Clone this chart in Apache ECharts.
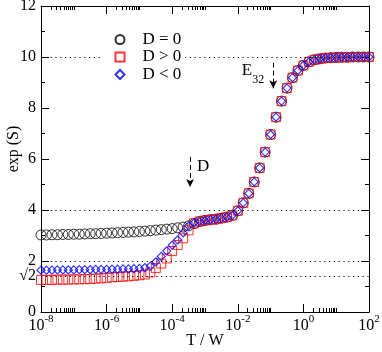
<!DOCTYPE html>
<html><head><meta charset="utf-8">
<script src="https://cdn.jsdelivr.net/npm/echarts@6/dist/echarts.min.js"></script>
<style>html,body{margin:0;padding:0;background:#fff}#c{width:382px;height:352px}</style>
</head><body><div id="c"></div>
<script>
// temperatures T/W (x values, log spaced, 6 per decade)
const T = [
  1e-8, 1.468e-8, 2.154e-8, 3.162e-8, 4.642e-8, 6.813e-8,
  1e-7, 1.468e-7, 2.154e-7, 3.162e-7, 4.642e-7, 6.813e-7,
  1e-6, 1.468e-6, 2.154e-6, 3.162e-6, 4.642e-6, 6.813e-6,
  1e-5, 1.468e-5, 2.154e-5, 3.162e-5, 4.642e-5, 6.813e-5,
  1e-4, 1.468e-4, 2.154e-4, 3.162e-4, 4.642e-4, 6.813e-4,
  1e-3, 1.468e-3, 2.154e-3, 3.162e-3, 4.642e-3, 6.813e-3,
  1e-2, 1.468e-2, 2.154e-2, 3.162e-2, 4.642e-2, 6.813e-2,
  1e-1, 1.468e-1, 2.154e-1, 3.162e-1, 4.642e-1, 6.813e-1,
  1, 1.468, 2.154, 3.162, 4.642, 6.813,
  10, 14.68, 21.54, 31.62, 46.42, 68.13,
  100
];
// low-temperature part (first 29 points) of each series
const lowD0 = [3.02,3.02,3.03,3.03,3.04,3.04,3.05,3.05,3.06,3.07,3.07,3.08,3.09,3.10,3.11,3.12,3.13,3.14,3.16,3.17,3.19,3.21,3.23,3.25,3.27,3.30,3.33,3.38,3.47];
const lowDpos = [1.26,1.26,1.26,1.27,1.27,1.27,1.28,1.28,1.29,1.29,1.31,1.32,1.34,1.36,1.37,1.39,1.40,1.42,1.44,1.47,1.55,1.72,1.90,2.10,2.39,2.63,2.89,3.20,3.48];
const lowDneg = [1.64,1.64,1.64,1.65,1.65,1.65,1.65,1.66,1.66,1.66,1.67,1.67,1.67,1.68,1.68,1.69,1.69,1.70,1.71,1.74,1.80,1.97,2.18,2.40,2.62,2.83,3.10,3.38,3.50];
// high-temperature part (remaining 32 points), common to all three series
const highCommon = [3.55,3.59,3.62,3.64,3.68,3.72,3.79,3.97,4.28,4.65,5.10,5.65,6.27,6.96,7.64,8.27,8.78,9.19,9.47,9.67,9.81,9.89,9.93,9.96,9.97,9.98,9.99,9.99,10.0,10.0,10.0,10.0];

const seriesNames = ['D = 0', 'D > 0', 'D < 0'];
const xMajorTicks = [1e-8, 1e-6, 1e-4, 1e-2, 1, 100];
const xMinorTicks = [
  2e-8,3e-8,4e-8,5e-8,6e-8,7e-8,8e-8,9e-8,1e-7,
  2e-6,3e-6,4e-6,5e-6,6e-6,7e-6,8e-6,9e-6,1e-5,
  2e-4,3e-4,4e-4,5e-4,6e-4,7e-4,8e-4,9e-4,1e-3,
  0.02,0.03,0.04,0.05,0.06,0.07,0.08,0.09,0.1,
  2,3,4,5,6,7,8,9,10
];
const yMajorTicks = [0, 2, 4, 6, 8, 10, 12];
const yLabelValues = [0, Math.SQRT2, 2, 4, 6, 8, 10, 12];
const refLines = [10, 4, 2, Math.SQRT2];
// annotation arrows: [T, yStart, yEnd]
const arrowD = [3.5e-4, 6.08, 4.9];
const arrowE = [0.12, 9.78, 8.77];
const labelD = [5.7e-4, 5.7];
const labelE = [0.0132, 9.33];

const FONT = 'Liberation Serif';
const mk = (low) => T.map((t, i) => [t, i < low.length ? low[i] : highCommon[i - low.length]]);

const xBase = {type: 'log', logBase: 10, min: 1e-8, max: 100, splitLine: {show: false}, minorTick: {show: false}};
const chart = echarts.init(document.getElementById('c'), null, {renderer: 'canvas'});
chart.setOption({
  animation: false,
  backgroundColor: '#fff',
  grid: {left: 41, right: 13, top: 6, bottom: 40, containLabel: false, outerBoundsMode: 'none'},
  legend: {
    data: seriesNames, orient: 'vertical', left: 100, top: 27,
    itemWidth: 9, itemHeight: 9, itemGap: 0.5,
    backgroundColor: '#fff', padding: [4, 4, 4, 14.5], z: 10,
    textStyle: {fontFamily: FONT, fontSize: 17, color: '#000', lineHeight: 16, padding: [0, 0, 0, 13]}
  },
  xAxis: [
    Object.assign({}, xBase, {
      position: 'bottom',
      axisLine: {show: true, lineStyle: {color: '#000', width: 1}},
      axisTick: {show: true, inside: true, length: 8, customValues: xMajorTicks, lineStyle: {color: '#000'}},
      axisLabel: {
        customValues: xMajorTicks, margin: 2, color: '#000',
        formatter: v => '{b|10}{s|' + Math.round(Math.log10(v)) + '}',
        rich: {
          b: {fontFamily: FONT, fontSize: 16, color: '#000', verticalAlign: 'bottom', lineHeight: 20},
          s: {fontFamily: FONT, fontSize: 11, color: '#000', verticalAlign: 'top', lineHeight: 20}
        }
      },
      name: 'T / W', nameLocation: 'middle', nameGap: 21, nameMoveOverlap: false,
      nameTextStyle: {fontFamily: FONT, fontSize: 16, color: '#000'}
    }),
    Object.assign({}, xBase, {
      position: 'bottom', axisLine: {show: false},
      axisTick: {show: true, inside: true, length: 4, customValues: xMinorTicks, lineStyle: {color: '#000'}},
      axisLabel: {show: false}
    }),
    Object.assign({}, xBase, {
      position: 'top',
      axisLine: {show: true, lineStyle: {color: '#000', width: 1}},
      axisTick: {show: true, inside: true, length: 8, customValues: xMajorTicks, lineStyle: {color: '#000'}},
      axisLabel: {show: false}
    }),
    Object.assign({}, xBase, {
      position: 'top', axisLine: {show: false},
      axisTick: {show: true, inside: true, length: 4, customValues: xMinorTicks, lineStyle: {color: '#000'}},
      axisLabel: {show: false}
    })
  ],
  yAxis: [
    {
      type: 'value', min: 0, max: 12, interval: 2, position: 'left',
      axisLine: {show: true, lineStyle: {color: '#000', width: 1}},
      axisTick: {show: true, inside: true, length: 8, customValues: yMajorTicks, lineStyle: {color: '#000'}},
      minorTick: {show: true, splitNumber: 2, length: 4, lineStyle: {color: '#000'}},
      splitLine: {show: false},
      axisLabel: {
        customValues: yLabelValues, margin: 5, color: '#000', fontFamily: FONT, fontSize: 16,
        formatter: v => Math.abs(v - Math.SQRT2) < 1e-6 ? '\u221A2' : String(Math.round(v))
      },
      name: 'exp (S)', nameLocation: 'middle', nameGap: 19, nameRotate: 90, nameMoveOverlap: false,
      nameTextStyle: {fontFamily: FONT, fontSize: 16, color: '#000', padding: [0, 0, 0, 20]}
    },
    {
      type: 'value', min: 0, max: 12, interval: 2, position: 'right',
      axisLine: {show: true, lineStyle: {color: '#000', width: 1}},
      axisTick: {show: true, inside: true, length: 8, lineStyle: {color: '#000'}},
      minorTick: {show: true, splitNumber: 2, length: 4, lineStyle: {color: '#000'}},
      splitLine: {show: false}, axisLabel: {show: false}
    }
  ],
  series: [
    {
      type: 'scatter', name: 'refs', data: [], silent: true,
      markLine: {
        silent: true, symbol: 'none', label: {show: false},
        lineStyle: {color: '#000', width: 1.2, type: [1.2, 3.6]},
        data: refLines.map(v => ({yAxis: v}))
      }
    },
    {
      type: 'scatter', name: seriesNames[0], data: mk(lowD0), symbol: 'circle', symbolSize: 10,
      itemStyle: {color: 'rgba(0,0,0,0)', borderColor: '#000', borderWidth: 1}
    },
    {
      type: 'scatter', name: seriesNames[1], data: mk(lowDpos), symbol: 'rect', symbolSize: 9,
      itemStyle: {color: 'rgba(0,0,0,0)', borderColor: '#ff0000', borderWidth: 1}
    },
    {
      type: 'scatter', name: seriesNames[2], data: mk(lowDneg), symbol: 'diamond', symbolSize: 8,
      itemStyle: {color: 'rgba(0,0,0,0)', borderColor: '#0000ff', borderWidth: 1.2}
    },
    {
      type: 'scatter', name: 'notes', data: [], silent: true,
      markLine: {
        silent: true, symbol: ['none', 'arrow'], symbolSize: [6, 8], label: {show: false},
        lineStyle: {color: '#000', width: 1, type: [5, 3]},
        data: [
          [{coord: [arrowD[0], arrowD[1]]}, {coord: [arrowD[0], arrowD[2]]}],
          [{coord: [arrowE[0], arrowE[1]]}, {coord: [arrowE[0], arrowE[2]]}]
        ]
      },
      markPoint: {
        silent: true, symbol: 'circle', symbolSize: 0,
        label: {show: true, position: 'right', distance: 0, color: '#000', fontFamily: FONT, fontSize: 17,
          formatter: p => p.name === 'E' ? '{e|E}{s|32}' : 'D',
          rich: {
            e: {fontFamily: FONT, fontSize: 17, color: '#000', verticalAlign: 'top', lineHeight: 24},
            s: {fontFamily: FONT, fontSize: 12, color: '#000', verticalAlign: 'bottom', lineHeight: 24}
          }
        },
        data: [
          {name: 'D', coord: labelD},
          {name: 'E', coord: labelE}
        ]
      }
    }
  ]
});
</script></body></html>
